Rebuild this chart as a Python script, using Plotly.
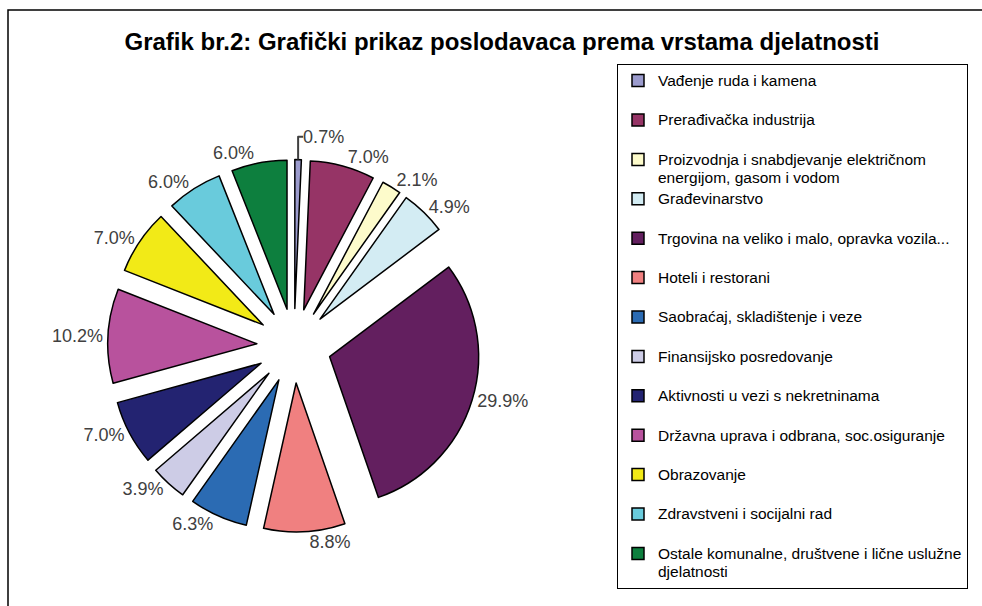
import plotly.graph_objects as go

categories = [
    "Vađenje ruda i kamena",
    "Prerađivačka industrija",
    "Proizvodnja i snabdjevanje električnom<br>energijom, gasom i vodom",
    "Građevinarstvo",
    "Trgovina na veliko i malo, opravka vozila...",
    "Hoteli i restorani",
    "Saobraćaj, skladištenje i veze",
    "Finansijsko posredovanje",
    "Aktivnosti u vezi s nekretninama",
    "Državna uprava i odbrana, soc.osiguranje",
    "Obrazovanje",
    "Zdravstveni i socijalni rad",
    "Ostale komunalne, društvene i lične uslužne<br>djelatnosti",
]
values = [0.7, 7.0, 2.1, 4.9, 29.9, 8.8, 6.3, 3.9, 7.0, 10.2, 7.0, 6.0, 6.0]
colors = ["#9b9bcd", "#963466", "#fdfbcb", "#d3ecf3", "#631f5f", "#f08080",
          "#2b6bb3", "#cdcce6", "#232371", "#b8529d", "#f2ea17", "#69cbdc", "#0d7f3e"]

FONT = "Liberation Sans, Arial, sans-serif"

legend_labels = []
longest = max(categories, key=lambda c: max(len(l) for l in c.split("<br>")))
for c in categories:
    lines = c.split("<br>")
    if len(lines) == 1:
        lines.append("\u00a0")
    lines = ["<span style='font-size:15.5px'>%s</span>" % l for l in lines]
    if c == longest:
        # small invisible padding so the legend frame reaches near the right edge
        lines[0] += "<span style='color:rgba(0,0,0,0)'>_.</span>"
    legend_labels.append("<br>".join(lines))

fig = go.Figure(go.Pie(
    labels=legend_labels,
    values=values,
    text=["%.1f%%" % v for v in values],
    textinfo="text",
    textposition="outside",
    outsidetextfont=dict(family=FONT, size=18, color="#404040"),
    sort=False,
    direction="clockwise",
    rotation=0,
    pull=[0.25] * len(values),
    marker=dict(colors=colors, line=dict(color="black", width=1.5)),
    domain=dict(x=[0.1097, 0.4891], y=[0.1221, 0.7367]),
    hoverinfo="skip",
))

fig.update_layout(
    width=982, height=606,
    margin=dict(l=0, r=0, t=0, b=0, autoexpand=False),
    paper_bgcolor="white",
    title=dict(text="Grafik br.2: Grafički prikaz poslodavaca prema vrstama djelatnosti",
               x=502 / 982, xanchor="center", y=1 - 42 / 606, yanchor="middle",
               font=dict(family=FONT, size=24, color="black", weight="bold")),
    legend=dict(x=617 / 982, y=1 - 64 / 606, xanchor="left", yanchor="top",
                bordercolor="black", borderwidth=1, bgcolor="white",
                valign="top", traceorder="normal",
                font=dict(family=FONT, size=14, color="black")),
    shapes=[dict(type="rect", xref="paper", yref="paper",
                 x0=8 / 982, x1=1.02, y0=-0.02, y1=1 - 10 / 606,
                 line=dict(color="black", width=1.5), layer="below")],
    showlegend=True,
)

fig.write_html("out.html", config={"displayModeBar": False},
               post_script="document.body.style.margin='0';")
